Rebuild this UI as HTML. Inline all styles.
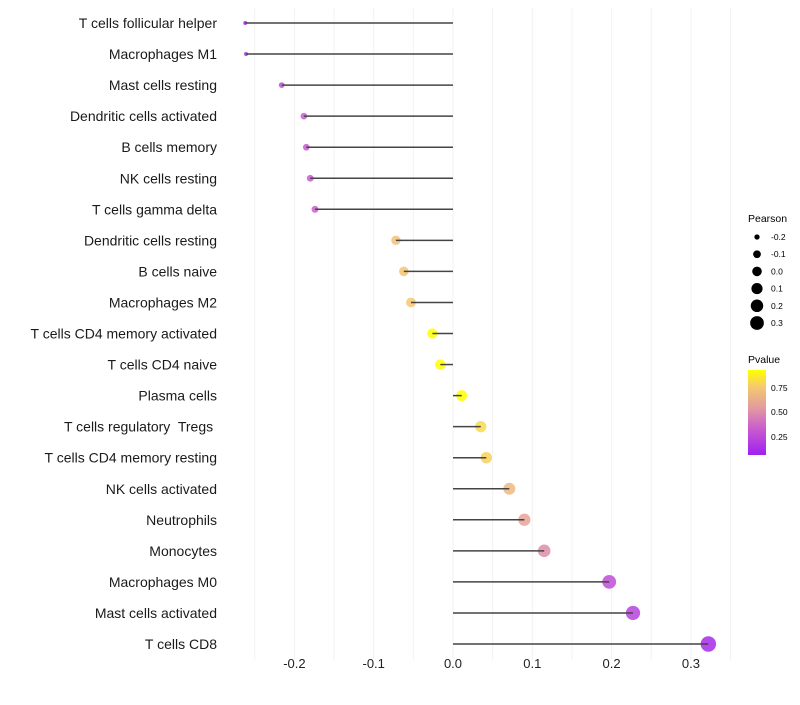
<!DOCTYPE html>
<html><head><meta charset="utf-8"><style>
body{margin:0;background:#fff;font-family:"Liberation Sans",sans-serif}
text{white-space:pre}
</style></head><body>
<svg id="chart" width="800" height="700" xmlns="http://www.w3.org/2000/svg" font-family="Liberation Sans, sans-serif" xml:space="preserve">
<defs><linearGradient id="pg" x1="0" y1="1" x2="0" y2="0">
<stop offset="0" stop-color="#A020F0"/><stop offset="0.3" stop-color="#C85AD0"/><stop offset="0.55" stop-color="#E29AA0"/><stop offset="0.8" stop-color="#F5C870"/><stop offset="1" stop-color="#FFFF00"/></linearGradient></defs>
<g id="grid"></g><g id="pts"></g><g id="marks"></g><g id="labels"></g>
<g id="legS">
<text x="748" y="222" font-size="10.5">Pearson</text></g>
<g>
<text x="748" y="363" font-size="10.5">Pvalue</text>
<rect x="748" y="370" width="18" height="85" fill="url(#pg)"/>
<text x="771" y="391" font-size="8.5">0.75</text>
<text x="771" y="415" font-size="8.5">0.50</text>
<text x="771" y="440" font-size="8.5">0.25</text>
</g>
</svg>
<script>
const categories=["T cells follicular helper","Macrophages M1","Mast cells resting","Dendritic cells activated","B cells memory","NK cells resting","T cells gamma delta","Dendritic cells resting","B cells naive","Macrophages M2","T cells CD4 memory activated","T cells CD4 naive","Plasma cells","T cells regulatory  Tregs ","T cells CD4 memory resting","NK cells activated","Neutrophils","Monocytes","Macrophages M0","Mast cells activated","T cells CD8"];
const pearson=[-0.262,-0.261,-0.216,-0.188,-0.185,-0.180,-0.174,-0.072,-0.062,-0.053,-0.026,-0.016,0.011,0.035,0.042,0.071,0.090,0.115,0.197,0.227,0.322];
const pvalue=[0.10,0.12,0.25,0.30,0.30,0.30,0.32,0.75,0.78,0.80,0.92,0.93,0.94,0.84,0.82,0.72,0.60,0.50,0.25,0.20,0.10];
const xTicks=[-0.2,-0.1,0.0,0.1,0.2,0.3];
const xTickLabels=["-0.2","-0.1","0.0","0.1","0.2","0.3"];
const legendSizes=[-0.2,-0.1,0.0,0.1,0.2,0.3];
const NS="http://www.w3.org/2000/svg";
const x=v=>453+v*793;
const y=i=>23+i*31.05;
const rad=v=>Math.sqrt(Math.max(1,4+95*(v+0.262)));
const lrad=v=>Math.sqrt(Math.max(1,7+80*(v+0.2)));
const stops=[[0.06,[160,32,240]],[0.3,[200,90,208]],[0.55,[226,154,160]],[0.8,[245,200,112]],[0.92,[255,255,0]]];
function col(p){if(p<=stops[0][0])return `rgb(${stops[0][1]})`;for(let k=1;k<stops.length;k++){if(p<=stops[k][0]){const a=stops[k-1],b=stops[k],t=(p-a[0])/(b[0]-a[0]);return `rgb(${a[1].map((c,j)=>Math.round(c+(b[1][j]-c)*t))})`;}}return "rgb(255,255,0)";}
function mk(t,at,parent){const e=document.createElementNS(NS,t);for(const k in at)e.setAttribute(k,at[k]);parent.appendChild(e);return e;}
const grid=document.getElementById('grid'),marks=document.getElementById('marks'),pts=document.getElementById('pts'),labels=document.getElementById('labels');
for(let v=-0.25;v<=0.351;v+=0.05){const g=mk('line',{x1:x(v),x2:x(v),y1:8,y2:660,stroke:'#f2f2f2','stroke-width':1},grid);

}
xTicks.forEach((v,i)=>{const t=mk('text',{x:x(v),y:668,'font-size':13,'text-anchor':'middle',fill:'#222'},labels);t.textContent=xTickLabels[i];

});
categories.forEach((c,i)=>{
const t=mk('text',{x:217,y:y(i)+5,'font-size':14,'text-anchor':'end',fill:'#1a1a1a'},labels);t.textContent=c;


const l=mk('line',{x1:x(0),x2:x(pearson[i]),y1:y(i),y2:y(i),stroke:'#444','stroke-width':1.5},marks);


const p=mk('circle',{cx:x(pearson[i]),cy:y(i),r:rad(pearson[i]),fill:col(pvalue[i]),'fill-opacity':0.85},pts);


});
const ls=document.getElementById('legS');
legendSizes.forEach((v,i)=>{const cy=237+i*17.2;
const c=mk('circle',{cx:757,cy:cy,r:lrad(v),fill:'#000'},ls);


const t=mk('text',{x:771,y:cy+3,'font-size':8.5},ls);t.textContent=xTickLabels[i];

});
</script>
</body></html>
